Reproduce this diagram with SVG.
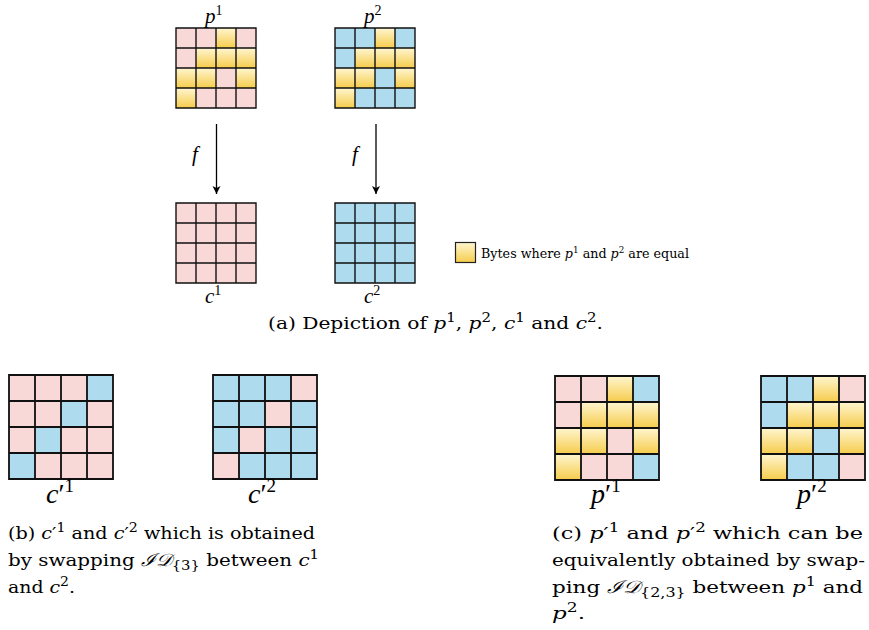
<svg xmlns="http://www.w3.org/2000/svg" width="869" height="630" viewBox="0 0 869 630">
<style>
.P{fill:#f9d9d7}
.B{fill:#aedbee}
.Y{fill:url(#yg)}
.gl{fill:none;stroke:#111;stroke-width:1.4;vector-effect:non-scaling-stroke}
text{fill:#000;font-family:'Liberation Serif','DejaVu Serif',serif}
.cap{font-size:17.5px;font-family:'DejaVu Serif','Liberation Serif',serif}
.i{font-style:italic}
.conn{stroke:#000;stroke-width:1.3;fill:none;marker-end:url(#ah)}
</style>
<defs>
<linearGradient id="yg" x1="0" y1="0" x2="0" y2="1"><stop offset="0" stop-color="#fff6d0"/><stop offset="1" stop-color="#f6cc4c"/></linearGradient>
<path id="gl" d="M0 0H80V80H0Z M20 0V80M40 0V80M60 0V80M0 20H80M0 40H80M0 60H80"/>
<marker id="ah" markerWidth="10" markerHeight="10" refX="8" refY="4" orient="auto" markerUnits="userSpaceOnUse"><path d="M0 0L8 4L0 8L2 4Z" fill="#000"/></marker>
</defs>
<rect width="869" height="630" fill="#fff"/>

<g id="p1" transform="translate(176,28)">
<rect class="P" x="0" y="0" width="20" height="20"/><rect class="P" x="20" y="0" width="20" height="20"/><rect class="Y" x="40" y="0" width="20" height="20"/><rect class="P" x="60" y="0" width="20" height="20"/>
<rect class="P" x="0" y="20" width="20" height="20"/><rect class="Y" x="20" y="20" width="20" height="20"/><rect class="Y" x="40" y="20" width="20" height="20"/><rect class="Y" x="60" y="20" width="20" height="20"/>
<rect class="Y" x="0" y="40" width="20" height="20"/><rect class="Y" x="20" y="40" width="20" height="20"/><rect class="P" x="40" y="40" width="20" height="20"/><rect class="Y" x="60" y="40" width="20" height="20"/>
<rect class="Y" x="0" y="60" width="20" height="20"/><rect class="P" x="20" y="60" width="20" height="20"/><rect class="P" x="40" y="60" width="20" height="20"/><rect class="P" x="60" y="60" width="20" height="20"/>
<use href="#gl" class="gl"/>
</g>
<g id="p2" transform="translate(335,28)">
<rect class="B" x="0" y="0" width="20" height="20"/><rect class="B" x="20" y="0" width="20" height="20"/><rect class="Y" x="40" y="0" width="20" height="20"/><rect class="B" x="60" y="0" width="20" height="20"/>
<rect class="B" x="0" y="20" width="20" height="20"/><rect class="Y" x="20" y="20" width="20" height="20"/><rect class="Y" x="40" y="20" width="20" height="20"/><rect class="Y" x="60" y="20" width="20" height="20"/>
<rect class="Y" x="0" y="40" width="20" height="20"/><rect class="Y" x="20" y="40" width="20" height="20"/><rect class="B" x="40" y="40" width="20" height="20"/><rect class="Y" x="60" y="40" width="20" height="20"/>
<rect class="Y" x="0" y="60" width="20" height="20"/><rect class="B" x="20" y="60" width="20" height="20"/><rect class="B" x="40" y="60" width="20" height="20"/><rect class="B" x="60" y="60" width="20" height="20"/>
<use href="#gl" class="gl"/>
</g>
<g id="c1" transform="translate(176,203)">
<rect class="P" x="0" y="0" width="80" height="80"/>
<use href="#gl" class="gl"/>
</g>
<g id="c2" transform="translate(335,203)">
<rect class="B" x="0" y="0" width="80" height="80"/>
<use href="#gl" class="gl"/>
</g>

<g id="cp1" transform="translate(9,375) scale(1.3)">
<rect class="P" x="0" y="0" width="20" height="20"/><rect class="P" x="20" y="0" width="20" height="20"/><rect class="P" x="40" y="0" width="20" height="20"/><rect class="B" x="60" y="0" width="20" height="20"/>
<rect class="P" x="0" y="20" width="20" height="20"/><rect class="P" x="20" y="20" width="20" height="20"/><rect class="B" x="40" y="20" width="20" height="20"/><rect class="P" x="60" y="20" width="20" height="20"/>
<rect class="P" x="0" y="40" width="20" height="20"/><rect class="B" x="20" y="40" width="20" height="20"/><rect class="P" x="40" y="40" width="20" height="20"/><rect class="P" x="60" y="40" width="20" height="20"/>
<rect class="B" x="0" y="60" width="20" height="20"/><rect class="P" x="20" y="60" width="20" height="20"/><rect class="P" x="40" y="60" width="20" height="20"/><rect class="P" x="60" y="60" width="20" height="20"/>
<use href="#gl" class="gl"/>
</g>
<g id="cp2" transform="translate(213,375) scale(1.3)">
<rect class="B" x="0" y="0" width="20" height="20"/><rect class="B" x="20" y="0" width="20" height="20"/><rect class="B" x="40" y="0" width="20" height="20"/><rect class="P" x="60" y="0" width="20" height="20"/>
<rect class="B" x="0" y="20" width="20" height="20"/><rect class="B" x="20" y="20" width="20" height="20"/><rect class="P" x="40" y="20" width="20" height="20"/><rect class="B" x="60" y="20" width="20" height="20"/>
<rect class="B" x="0" y="40" width="20" height="20"/><rect class="P" x="20" y="40" width="20" height="20"/><rect class="B" x="40" y="40" width="20" height="20"/><rect class="B" x="60" y="40" width="20" height="20"/>
<rect class="P" x="0" y="60" width="20" height="20"/><rect class="B" x="20" y="60" width="20" height="20"/><rect class="B" x="40" y="60" width="20" height="20"/><rect class="B" x="60" y="60" width="20" height="20"/>
<use href="#gl" class="gl"/>
</g>
<g id="pp1" transform="translate(555,376) scale(1.3)">
<rect class="P" x="0" y="0" width="20" height="20"/><rect class="P" x="20" y="0" width="20" height="20"/><rect class="Y" x="40" y="0" width="20" height="20"/><rect class="B" x="60" y="0" width="20" height="20"/>
<rect class="P" x="0" y="20" width="20" height="20"/><rect class="Y" x="20" y="20" width="20" height="20"/><rect class="Y" x="40" y="20" width="20" height="20"/><rect class="Y" x="60" y="20" width="20" height="20"/>
<rect class="Y" x="0" y="40" width="20" height="20"/><rect class="Y" x="20" y="40" width="20" height="20"/><rect class="P" x="40" y="40" width="20" height="20"/><rect class="Y" x="60" y="40" width="20" height="20"/>
<rect class="Y" x="0" y="60" width="20" height="20"/><rect class="P" x="20" y="60" width="20" height="20"/><rect class="P" x="40" y="60" width="20" height="20"/><rect class="B" x="60" y="60" width="20" height="20"/>
<use href="#gl" class="gl"/>
</g>
<g id="pp2" transform="translate(761,376) scale(1.3)">
<rect class="B" x="0" y="0" width="20" height="20"/><rect class="B" x="20" y="0" width="20" height="20"/><rect class="Y" x="40" y="0" width="20" height="20"/><rect class="P" x="60" y="0" width="20" height="20"/>
<rect class="B" x="0" y="20" width="20" height="20"/><rect class="Y" x="20" y="20" width="20" height="20"/><rect class="Y" x="40" y="20" width="20" height="20"/><rect class="Y" x="60" y="20" width="20" height="20"/>
<rect class="Y" x="0" y="40" width="20" height="20"/><rect class="Y" x="20" y="40" width="20" height="20"/><rect class="B" x="40" y="40" width="20" height="20"/><rect class="Y" x="60" y="40" width="20" height="20"/>
<rect class="Y" x="0" y="60" width="20" height="20"/><rect class="B" x="20" y="60" width="20" height="20"/><rect class="B" x="40" y="60" width="20" height="20"/><rect class="P" x="60" y="60" width="20" height="20"/>
<use href="#gl" class="gl"/>
</g>

<g id="connectors">
<line class="conn" x1="216.5" y1="124" x2="216.5" y2="194"/>
<line class="conn" x1="376" y1="124" x2="376" y2="194"/>
</g>

<g id="labels">
<text x="205" y="23" font-size="21"><tspan class="i">p</tspan><tspan font-size="14" dy="-8">1</tspan></text>
<text x="364" y="23" font-size="21"><tspan class="i">p</tspan><tspan font-size="14" dy="-8">2</tspan></text>
<text x="192" y="161" font-size="21" class="i">f</text>
<text x="352" y="161" font-size="21" class="i">f</text>
<text x="205" y="303" font-size="21"><tspan class="i">c</tspan><tspan font-size="14" dy="-8">1</tspan></text>
<text x="364" y="303" font-size="21"><tspan class="i">c</tspan><tspan font-size="14" dy="-8">2</tspan></text>
<text x="46" y="503" font-size="28"><tspan class="i">c</tspan><tspan>′</tspan><tspan font-size="19" dy="-11">1</tspan></text>
<text x="248" y="503" font-size="28"><tspan class="i">c</tspan><tspan>′</tspan><tspan font-size="19" dy="-11">2</tspan></text>
<text x="591" y="503" font-size="28"><tspan class="i">p</tspan><tspan>′</tspan><tspan font-size="19" dy="-11">1</tspan></text>
<text x="797" y="503" font-size="28"><tspan class="i">p</tspan><tspan>′</tspan><tspan font-size="19" dy="-11">2</tspan></text>
</g>

<g id="legend">
<rect x="455.5" y="242.5" width="20" height="20" fill="url(#yg)" stroke="#222" stroke-width="1.2"/>
<text x="481" y="258" font-size="13" style="font-family:'DejaVu Serif',serif" textLength="208" lengthAdjust="spacingAndGlyphs">Bytes where <tspan class="i">p</tspan><tspan font-size="9" dy="-5">1</tspan><tspan dy="5"> and </tspan><tspan class="i">p</tspan><tspan font-size="9" dy="-5">2</tspan><tspan dy="5"> are equal</tspan></text>
</g>

<g id="captions">
<text x="268" y="329" class="cap" textLength="335" lengthAdjust="spacingAndGlyphs">(a) Depiction of <tspan class="i">p</tspan><tspan font-size="13" dy="-7">1</tspan><tspan dy="7">, </tspan><tspan class="i">p</tspan><tspan font-size="13" dy="-7">2</tspan><tspan dy="7">, </tspan><tspan class="i">c</tspan><tspan font-size="13" dy="-7">1</tspan><tspan dy="7"> and </tspan><tspan class="i">c</tspan><tspan font-size="13" dy="-7">2</tspan><tspan dy="7">.</tspan></text>
<text x="8" y="539" class="cap" textLength="307" lengthAdjust="spacingAndGlyphs">(b) <tspan class="i">c</tspan><tspan>′</tspan><tspan font-size="13" dy="-7">1</tspan><tspan dy="7"> and </tspan><tspan class="i">c</tspan><tspan>′</tspan><tspan font-size="13" dy="-7">2</tspan><tspan dy="7"> which is obtained</tspan></text>
<text x="8" y="566" class="cap" textLength="311" lengthAdjust="spacingAndGlyphs">by swapping <tspan class="i">ℐ𝒟</tspan><tspan font-size="13" dy="4">{3}</tspan><tspan dy="-4"> between </tspan><tspan class="i">c</tspan><tspan font-size="13" dy="-7">1</tspan></text>
<text x="8" y="593" class="cap" textLength="67" lengthAdjust="spacingAndGlyphs">and <tspan class="i">c</tspan><tspan font-size="13" dy="-7">2</tspan><tspan dy="7">.</tspan></text>
<text x="552" y="539" class="cap" textLength="311" lengthAdjust="spacingAndGlyphs">(c) <tspan class="i">p</tspan><tspan>′</tspan><tspan font-size="13" dy="-7">1</tspan><tspan dy="7"> and </tspan><tspan class="i">p</tspan><tspan>′</tspan><tspan font-size="13" dy="-7">2</tspan><tspan dy="7"> which can be</tspan></text>
<text x="552" y="566" class="cap" textLength="313" lengthAdjust="spacingAndGlyphs">equivalently obtained by swap-</text>
<text x="552" y="593" class="cap" textLength="311" lengthAdjust="spacingAndGlyphs">ping <tspan class="i">ℐ𝒟</tspan><tspan font-size="13" dy="4">{2,3}</tspan><tspan dy="-4"> between </tspan><tspan class="i">p</tspan><tspan font-size="13" dy="-7">1</tspan><tspan dy="7"> and</tspan></text>
<text x="552" y="619" class="cap" textLength="33" lengthAdjust="spacingAndGlyphs"><tspan class="i">p</tspan><tspan font-size="13" dy="-7">2</tspan><tspan dy="7">.</tspan></text>
</g>
</svg>
